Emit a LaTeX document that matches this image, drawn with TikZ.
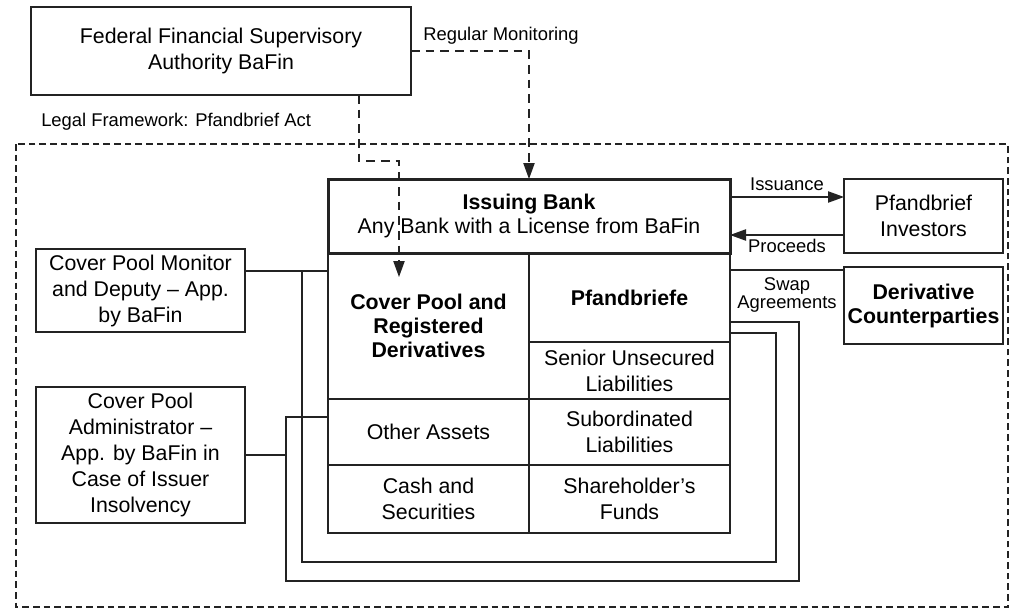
\documentclass[tikz,border=0pt]{standalone}
\usepackage{fontspec}
\setmainfont{Liberation Sans}
\usetikzlibrary{positioning, arrows.meta}
\definecolor{LineGray}{RGB}{35, 35, 35}

\begin{document}
\begin{tikzpicture}[x=0.75pt, y=-0.75pt,
    box/.style={draw=LineGray, line width=0.9pt, align=center, inner sep=0pt, outer sep=0pt,
      font=\fontsize{16}{19.5}\selectfont},
    cell/.style={box, minimum width=150.75pt},
    lbl/.style={inner sep=0pt, align=center, font=\fontsize{13.8}{14}\selectfont},
    link/.style={draw=LineGray, line width=0.9pt},
    watch/.style={link, dash pattern=on 6.5pt off 4.5pt},
    arr/.style={-{Triangle[length=12pt, width=8.5pt]}}]
    \useasboundingbox (0,0) rectangle (1018,610);

    % Legal framework
    \draw[link, dash pattern=on 5pt off 3pt] (16,144) rectangle (1008,607);
    \node[lbl, anchor=west] (legal) at (41,122) {Legal Framework: Pfandbrief Act};

    % Supervisor
    \node[box, minimum width=285pt, minimum height=66pt] (bafin) at (221,51)
      {Federal Financial Supervisory\\Authority BaFin};
    \node[lbl, anchor=west] (watchlbl) at (423,36) {Regular Monitoring};

    % Balance sheet of the bank
    \node[cell, minimum height=109.5pt, font=\fontsize{16}{17.8}\selectfont\bfseries] (pool) at (428.5,326)
      {Cover Pool and\\Registered\\Derivatives};
    \node[cell, minimum height=66.75pt, font=\fontsize{16}{19.5}\selectfont\bfseries] (pfb) at (629.5,297.5) {Pfandbriefe};
    \node[cell, minimum height=42.75pt] (senior) at (629.5,370.5) {Senior Unsecured\\Liabilities};
    \node[cell, minimum height=49.5pt] (other) at (428.5,432) {Other Assets};
    \node[cell, minimum height=49.5pt] (subord) at (629.5,432) {Subordinated\\Liabilities};
    \node[cell, minimum height=51pt] (cash) at (428.5,499) {Cash and\\Securities};
    \node[cell, minimum height=51pt] (funds) at (629.5,499) {Shareholder’s\\Funds};

    % Issuing bank
    \node[box, line width=2.25pt, minimum width=301.5pt, minimum height=55.5pt,
      font=\fontsize{16}{17.5}\selectfont] (bank) at (529,216)
      {\textbf{Issuing Bank}\\Any Bank with a License from BaFin};

    % Trustees
    \node[box, minimum width=156.75pt, minimum height=62.25pt] (monitor) at (140.5,290.5)
      {Cover Pool Monitor\\and Deputy – App.\\by BaFin};
    \node[box, minimum width=156.75pt, minimum height=102pt] (admin) at (140.5,455)
      {Cover Pool\\Administrator –\\App. by BaFin in\\Case of Issuer\\Insolvency};

    % Counterparties
    \node[box, minimum width=119.25pt, minimum height=55.5pt] (investors) at (923.5,216)
      {Pfandbrief\\Investors};
    \node[box, minimum width=119.25pt, minimum height=57.75pt, font=\fontsize{16}{18}\selectfont\bfseries]
      (deriv) at (923.5,305.5) {Derivative\\Counterparties};

    % Monitoring
    \draw[watch, arr] (bafin.east) -| (bank.north);
    \coordinate (via1) at (359,161);
    \coordinate (via2) at (399,161);
    \coordinate (poolin) at (399,277);
    \draw[watch, arr] (bafin.south -| via1) -- (via1) -- (via2) -- (poolin);

    % Issuance and swaps
    \draw[link, arr] ([yshift=14.25pt]bank.east) -- ([yshift=14.25pt]investors.west)
      node[lbl, midway, above=4pt] (issue) {Issuance};
    \draw[link, arr] ([yshift=-14.25pt]investors.west) -- ([yshift=-14.25pt]bank.east)
      node[lbl, midway, below=3pt] (proceeds) {Proceeds};
    \coordinate (swapin) at ([yshift=-2.25pt]deriv.north west);
    \draw[link] (pfb.east |- swapin) -- (swapin)
      node[lbl, midway, below=5pt] (swap) {Swap\\Agreements};

    % Cover pool monitor
    \coordinate (monj) at (302,271);
    \coordinate (in1) at (302,562);
    \coordinate (in2) at (776,562);
    \coordinate (in3) at (776,333);
    \draw[link] (monitor.east |- monj) -- (pool.west |- monj);
    \draw[link] (monj) -- (in1) -- (in2) -- (in3) -- (pfb.east |- in3);

    % Cover pool administrator
    \coordinate (outj) at (286,417);
    \coordinate (out1) at (286,581);
    \coordinate (out2) at (799,581);
    \coordinate (out3) at (799,322);
    \draw[link] (admin.east) -- (admin.east -| outj);
    \draw[link] (other.west |- outj) -- (outj) -- (out1) -- (out2) -- (out3) -- (pfb.east |- out3);
\end{tikzpicture}
\end{document}
